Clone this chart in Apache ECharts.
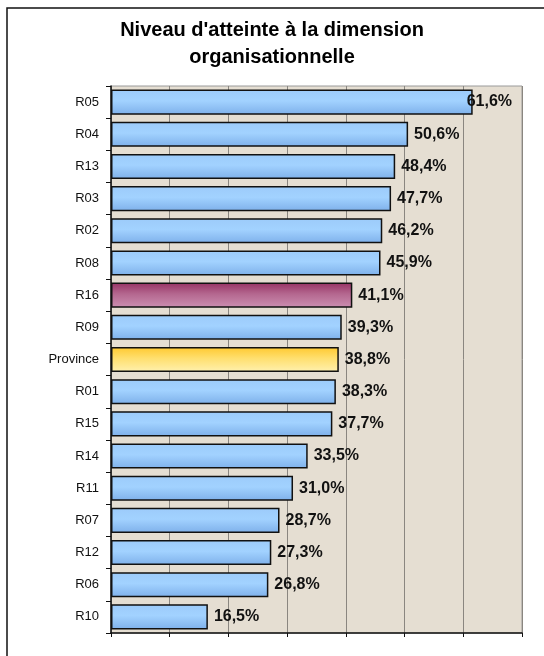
<!DOCTYPE html>
<html>
  <head>
    <meta charset="utf-8" />
    <title>Niveau d'atteinte</title>
    <script src="https://cdn.jsdelivr.net/npm/echarts/dist/echarts.min.js"></script>
    <style>
      html, body { margin: 0; padding: 0; background: #fff; }
    </style>
  </head>
  <body>
    <div id="main" style="width: 544px; height: 656px;"></div>

    <script type="text/javascript">
      var myChart = echarts.init(document.getElementById('main'));

      // Données
      const regions = ['R05', 'R04', 'R13', 'R03', 'R02', 'R08', 'R16', 'R09', 'Province',
                       'R01', 'R15', 'R14', 'R11', 'R07', 'R12', 'R06', 'R10'];
      const values = [61.6, 50.6, 48.4, 47.7, 46.2, 45.9, 41.1, 39.3, 38.8,
                      38.3, 37.7, 33.5, 31.0, 28.7, 27.3, 26.8, 16.5];
      const xTicks = [0, 10, 20, 30, 40, 50, 60, 70];

      function grad(top, mid, bottom) {
        return new echarts.graphic.LinearGradient(0, 0, 0, 1, [
          { offset: 0, color: top },
          { offset: 0.45, color: mid },
          { offset: 1, color: bottom }
        ]);
      }

      const blue = grad('#9ccbfa', '#a2d2ff', '#7eb0ea');
      const maroon = grad('#963264', '#b4678f', '#cc8fb2');
      const yellow = grad('#ffc82e', '#ffdf6e', '#fff1b0');

      const barData = values.map((v, i) => {
        let item = { value: v };
        if (regions[i] === 'R16') item.itemStyle = { color: maroon };
        if (regions[i] === 'Province') item.itemStyle = { color: yellow };
        if (i === 0) item.label = { distance: -6 };
        return item;
      });

      let option = {
        backgroundColor: '#fff',
        animation: false,
        title: {
          text: "Niveau d'atteinte à la dimension\norganisationnelle",
          left: 'center',
          top: 12,
          textStyle: {
            fontFamily: 'Liberation Sans, Arial, sans-serif',
            fontSize: 20,
            fontWeight: 'bold',
            color: '#000',
            lineHeight: 27
          }
        },
        graphic: [
          {
            type: 'rect',
            shape: { x: 7, y: 8, width: 560, height: 680 },
            style: { fill: 'none', stroke: '#111', lineWidth: 1.5 },
            z: -1
          }
        ],
        grid: {
          left: 111, right: 22, top: 86, bottom: 23,
          show: true,
          backgroundColor: '#e5ded2',
          borderColor: '#9a9a9a',
          borderWidth: 1
        },
        xAxis: {
          type: 'value',
          min: xTicks[0],
          max: xTicks[xTicks.length - 1],
          interval: 10,
          axisLabel: { show: false },
          axisLine: { show: true, lineStyle: { color: '#111', width: 1.5 } },
          axisTick: { show: true, length: 4, lineStyle: { color: '#111' } },
          splitLine: { show: true, lineStyle: { color: '#8a8680', width: 1 } }
        },
        yAxis: {
          type: 'category',
          data: regions,
          inverse: true,
          axisLine: { show: true, lineStyle: { color: '#111', width: 1.5 } },
          axisTick: { show: true, length: 5, lineStyle: { color: '#111' } },
          axisLabel: {
            color: '#111',
            fontFamily: 'Liberation Sans, Arial, sans-serif',
            fontSize: 13,
            margin: 12
          }
        },
        series: [
          {
            type: 'bar',
            data: barData,
            barCategoryGap: '22%',
            itemStyle: { color: blue, borderColor: '#111', borderWidth: 1.5 },
            label: {
              show: true,
              position: 'right',
              distance: 6,
              color: '#111',
              fontFamily: 'Liberation Sans, Arial, sans-serif',
              fontSize: 16,
              fontWeight: 'bold',
              formatter: p => p.value.toFixed(1).replace('.', ',') + '%'
            }
          }
        ]
      };

      myChart.setOption(option);
    </script>
  </body>
</html>
